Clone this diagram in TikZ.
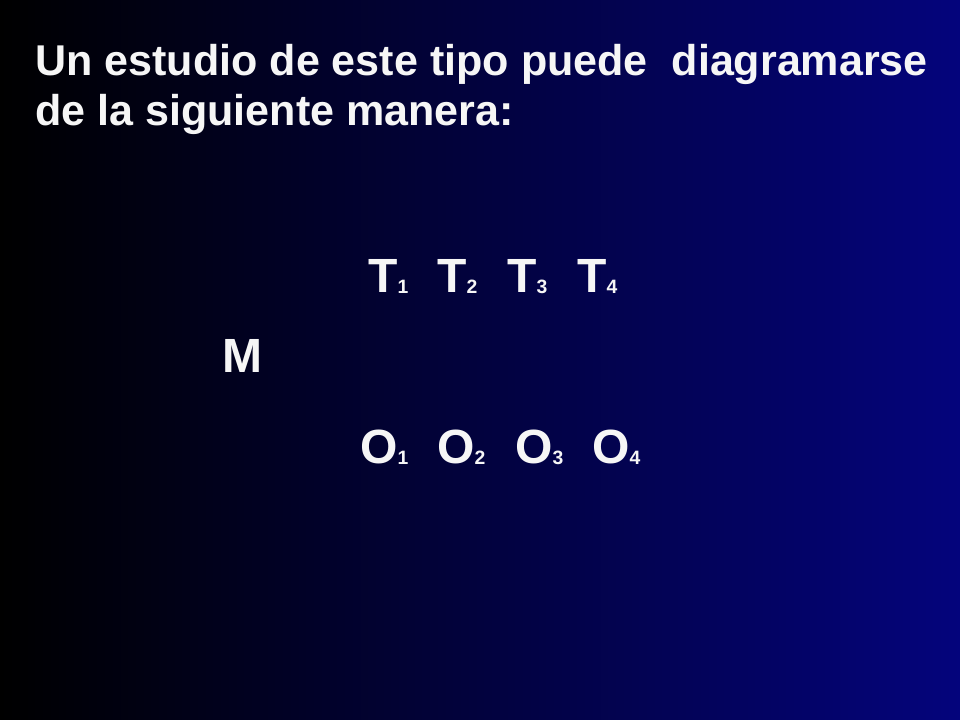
\documentclass[tikz,border=0pt]{standalone}
\usepackage{fontspec}
\setmainfont{Liberation Sans}
\definecolor{slideblue}{RGB}{4,4,124}
\definecolor{slidewhite}{RGB}{246,246,246}
\newcommand{\idx}[1]{{\fontsize{14.5}{14.5}\selectfont\raisebox{-0.8pt}{#1}}}
\newcommand{\slidenode}[4]{\node[#1] (#3) at (#2) {#4};}

\begin{document}
\begin{tikzpicture}[
  x=0.75pt, y=-0.75pt,
  slidetext/.style={text=slidewhite, inner sep=0pt, anchor=base west},
  titletext/.style={slidetext, font=\fontsize{32.3}{40}\selectfont\bfseries},
  bigtext/.style={slidetext, font=\fontsize{36}{43}\selectfont\bfseries}
]
\useasboundingbox (0,0) rectangle (960,720);
\shade[left color=black, right color=slideblue] (0,0) rectangle (960,720);

% title
\slidenode{titletext}{35,76}{title1}{Un estudio de este tipo puede~ diagramarse}
\slidenode{titletext}{35,126}{title2}{de la siguiente manera:}

% treatments
\foreach \i/\x in {1/368, 2/437, 3/507, 4/577}{
  \slidenode{bigtext}{\x,292}{t\i}{T\idx{\i}}
}

% sample
\slidenode{bigtext}{222,372}{m}{M}

% observations
\foreach \i/\x in {1/360, 2/437, 3/515, 4/592}{
  \slidenode{bigtext}{\x,463}{o\i}{O\idx{\i}}
}

\end{tikzpicture}
\end{document}
